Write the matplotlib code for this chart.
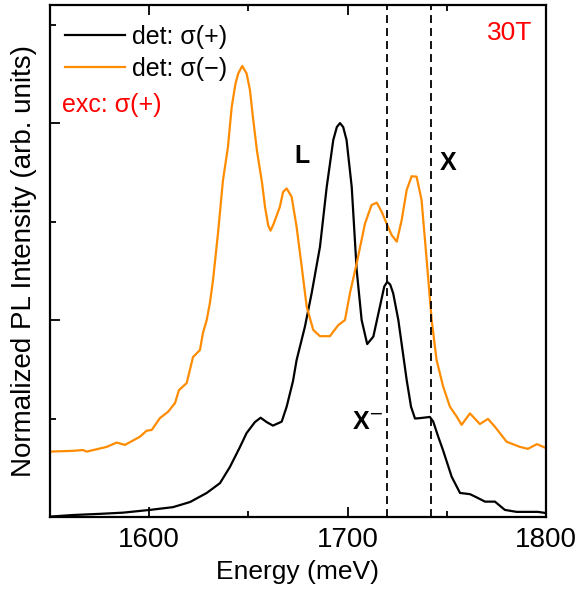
import numpy as np
import matplotlib
matplotlib.use("Agg")
import matplotlib.pyplot as plt
from matplotlib.ticker import MultipleLocator

plt.rcParams['font.family'] = ['Liberation Sans', 'DejaVu Sans']

# sigma(+) detection
e_plus = [1550, 1561.6, 1575.2, 1586.8, 1600.4, 1612.0, 1620.6, 1629.0, 1635.7, 1640.7,
          1645.8, 1649.1, 1653.3, 1656.2, 1659.2, 1662.4, 1666.8, 1669.3, 1672.5, 1674.3,
          1678.5, 1681.9, 1686.1, 1689.5, 1692.8, 1694.6, 1696.2, 1697.8, 1699.5, 1702.1,
          1704.6, 1707.1, 1709.9, 1713.0, 1716.3, 1718.5, 1720.0, 1721.5, 1723.0, 1725.6,
          1729.8, 1732.0, 1734.0, 1736.5, 1739.9, 1741.5, 1743.2, 1745.7, 1748.1, 1752.5,
          1756.7, 1761.7, 1765.0, 1769.3, 1774.3, 1779.3, 1785.2, 1796.0, 1800]
i_plus = [0.001, 0.005, 0.008, 0.011, 0.018, 0.025, 0.038, 0.061, 0.086, 0.127,
          0.178, 0.213, 0.241, 0.252, 0.241, 0.232, 0.242, 0.280, 0.345, 0.398,
          0.483, 0.568, 0.686, 0.838, 0.957, 0.990, 1.000, 0.990, 0.957, 0.838,
          0.627, 0.500, 0.439, 0.458, 0.534, 0.585, 0.597, 0.590, 0.568, 0.500,
          0.348, 0.280, 0.250, 0.251, 0.253, 0.254, 0.242, 0.204, 0.170, 0.102,
          0.061, 0.058, 0.050, 0.039, 0.039, 0.018, 0.013, 0.013, 0.010]

# sigma(-) detection (offset)
e_minus = [1550, 1561.6, 1566.6, 1568.5, 1578.6, 1583.6, 1587.8, 1595.4, 1598.7, 1601.3,
           1605.4, 1609.5, 1613.0, 1615.0, 1618.9, 1622.1, 1625.6, 1627.1, 1629.0, 1630.6,
           1632.2, 1634.7, 1637.2, 1639.7, 1641.6, 1643.5, 1644.9, 1646.9, 1649.1, 1650.8,
           1652.3, 1654.3, 1656.9, 1658.4, 1660.0, 1661.2, 1662.8, 1665.9, 1667.5, 1669.3,
           1671.8, 1674.3, 1676.9, 1679.4, 1682.7, 1686.1, 1691.1, 1695.3, 1698.7, 1701.2,
           1704.6, 1708.8, 1712.1, 1714.7, 1717.2, 1719.7, 1722.2, 1724.8, 1727.3, 1729.8,
           1732.3, 1734.8, 1737.3, 1739.9, 1742.4, 1744.9, 1748.2, 1751.6, 1755.0, 1757.5,
           1761.7, 1766.7, 1770.8, 1774.3, 1780.2, 1786.9, 1790.9, 1795.5, 1800]
i_minus = [0.166, 0.168, 0.170, 0.166, 0.178, 0.189, 0.183, 0.204, 0.219, 0.221,
           0.251, 0.267, 0.289, 0.322, 0.340, 0.406, 0.424, 0.467, 0.500, 0.543,
           0.602, 0.721, 0.855, 0.939, 1.041, 1.100, 1.126, 1.145, 1.126, 1.084,
           1.015, 0.931, 0.848, 0.787, 0.740, 0.727, 0.745, 0.788, 0.825, 0.834,
           0.813, 0.737, 0.635, 0.534, 0.475, 0.459, 0.459, 0.487, 0.500, 0.568,
           0.644, 0.745, 0.792, 0.798, 0.775, 0.745, 0.716, 0.699, 0.754, 0.830,
           0.865, 0.864, 0.805, 0.652, 0.500, 0.398, 0.331, 0.280, 0.255, 0.234,
           0.263, 0.236, 0.249, 0.229, 0.191, 0.178, 0.173, 0.185, 0.175]

dashed_e = [1720, 1742]

fig = plt.figure(figsize=(5.78, 5.92), dpi=100)
ax = fig.add_axes([0.0865, 0.1267, 0.858, 0.865])

ax.plot(e_plus, i_plus, color='black', lw=1.6, label='det: σ(+)')
ax.plot(e_minus, i_minus, color='#ff8c00', lw=1.6, label='det: σ(\u2212)')
for e in dashed_e:
    ax.axvline(e, color='black', lw=1.3, ls=(0, (4.4, 2.8)))

ax.set_xlim(1550, 1800)
ax.set_ylim(0, 1.30)
ax.xaxis.set_minor_locator(MultipleLocator(50))
ax.yaxis.set_major_locator(MultipleLocator(0.5))
ax.yaxis.set_minor_locator(MultipleLocator(0.25))
ax.set_xticks([1600, 1700, 1800])
ax.tick_params(which='both', direction='in', top=True, right=False, width=1.3)
ax.tick_params(which='major', length=7, labelsize=20)
ax.tick_params(which='minor', length=4)
ax.tick_params(axis='y', labelleft=False)
ax.tick_params(axis='x', pad=7)
for sp in ax.spines.values():
    sp.set_linewidth(1.6)

ax.set_xlabel('Energy (meV)', fontsize=19, labelpad=5)
ax.set_ylabel('Normalized PL Intensity (arb. units)', fontsize=20, labelpad=6)

ax.legend(loc='upper left', frameon=False, fontsize=18, handlelength=2.4,
          handletextpad=0.3, borderaxespad=0.2, labelspacing=0.3,
          bbox_to_anchor=(0.0, 0.99))
ax.text(0.025, 0.805, 'exc: σ(+)', transform=ax.transAxes, color='red', fontsize=18,
        va='center')
ax.text(0.972, 0.945, '30T', transform=ax.transAxes, color='red', fontsize=19,
        ha='right', va='center')
ax.text(1676.9, 0.917, 'L', fontsize=18, fontweight='bold', ha='center', va='center')
ax.text(1750.6, 0.898, 'X', fontsize=18, fontweight='bold', ha='center', va='center')
ax.text(1702.2, 0.241, 'X$^{-}$', fontsize=18, fontweight='bold', ha='left', va='center')

fig.savefig('out.png', dpi=100)
